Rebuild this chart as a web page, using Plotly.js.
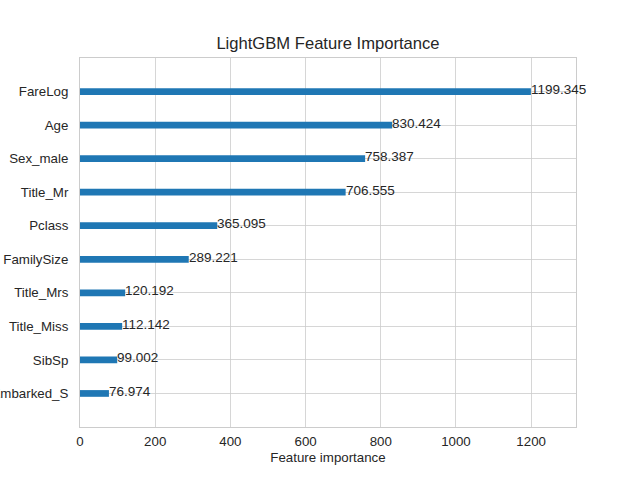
<!DOCTYPE html>
<html>
<head>
<meta charset="utf-8">
<script src="https://cdn.plot.ly/plotly-3.0.1.min.js"></script>
<style>html,body{margin:0;padding:0;background:#fff;}#chart{width:640px;height:480px;}</style>
</head>
<body>
<div id="chart"></div>
<script>
const features = ["Embarked_S", "SibSp", "Title_Miss", "Title_Mrs", "FamilySize", "Pclass", "Title_Mr", "Sex_male", "Age", "FareLog"];
const importance = [76.974, 99.002, 112.142, 120.192, 289.221, 365.095, 706.555, 758.387, 830.424, 1199.345];
const xTicks = [0, 200, 400, 600, 800, 1000, 1200];

const positions = features.map((_, i) => i);
const FONT = "Liberation Sans, Arial, sans-serif";
const TXT = "#262626";

const trace = {
  type: "bar",
  orientation: "h",
  x: importance,
  y: positions,
  width: 0.2,
  marker: {color: "#1f77b4", line: {width: 0}},
  hoverinfo: "none"
};

const annotations = importance.map((v, i) => ({
  x: v, y: positions[i], xref: "x", yref: "y",
  text: v.toFixed(3), showarrow: false,
  xanchor: "left", yanchor: "middle", xshift: -2, yshift: 2,
  font: {family: FONT, size: 13.5, color: TXT}
}));

const layout = {
  width: 640, height: 480,
  margin: {l: 80, r: 64, t: 58, b: 53, pad: 0},
  paper_bgcolor: "#fff", plot_bgcolor: "#fff",
  showlegend: false,
  title: {text: "LightGBM Feature Importance", x: 0.5125, xref: "container", xanchor: "center",
          y: 0.91, yref: "container", yanchor: "middle",
          font: {family: FONT, size: 16.6, color: TXT}},
  xaxis: {
    range: [0, Math.max(...importance) * 1.1],
    tickvals: xTicks, ticktext: xTicks.map(String),
    showgrid: true, gridcolor: "#cccccc", gridwidth: 0.8,
    showline: true, linecolor: "#cccccc", linewidth: 1, mirror: true,
    zeroline: false, ticks: "", ticklabelstandoff: 2,
    tickfont: {family: FONT, size: 13.3, color: TXT},
    title: {text: "Feature importance", standoff: 4, font: {family: FONT, size: 13.3, color: TXT}}
  },
  yaxis: {
    range: [-1, features.length],
    tickvals: positions, ticktext: features,
    showgrid: true, gridcolor: "#cccccc", gridwidth: 0.8,
    showline: true, linecolor: "#cccccc", linewidth: 1, mirror: true,
    zeroline: false, ticks: "", ticklabelstandoff: 8,
    tickfont: {family: FONT, size: 13.3, color: TXT}
  },
  annotations: annotations
};

Plotly.newPlot("chart", [trace], layout, {displayModeBar: false, staticPlot: true});
</script>
</body>
</html>
